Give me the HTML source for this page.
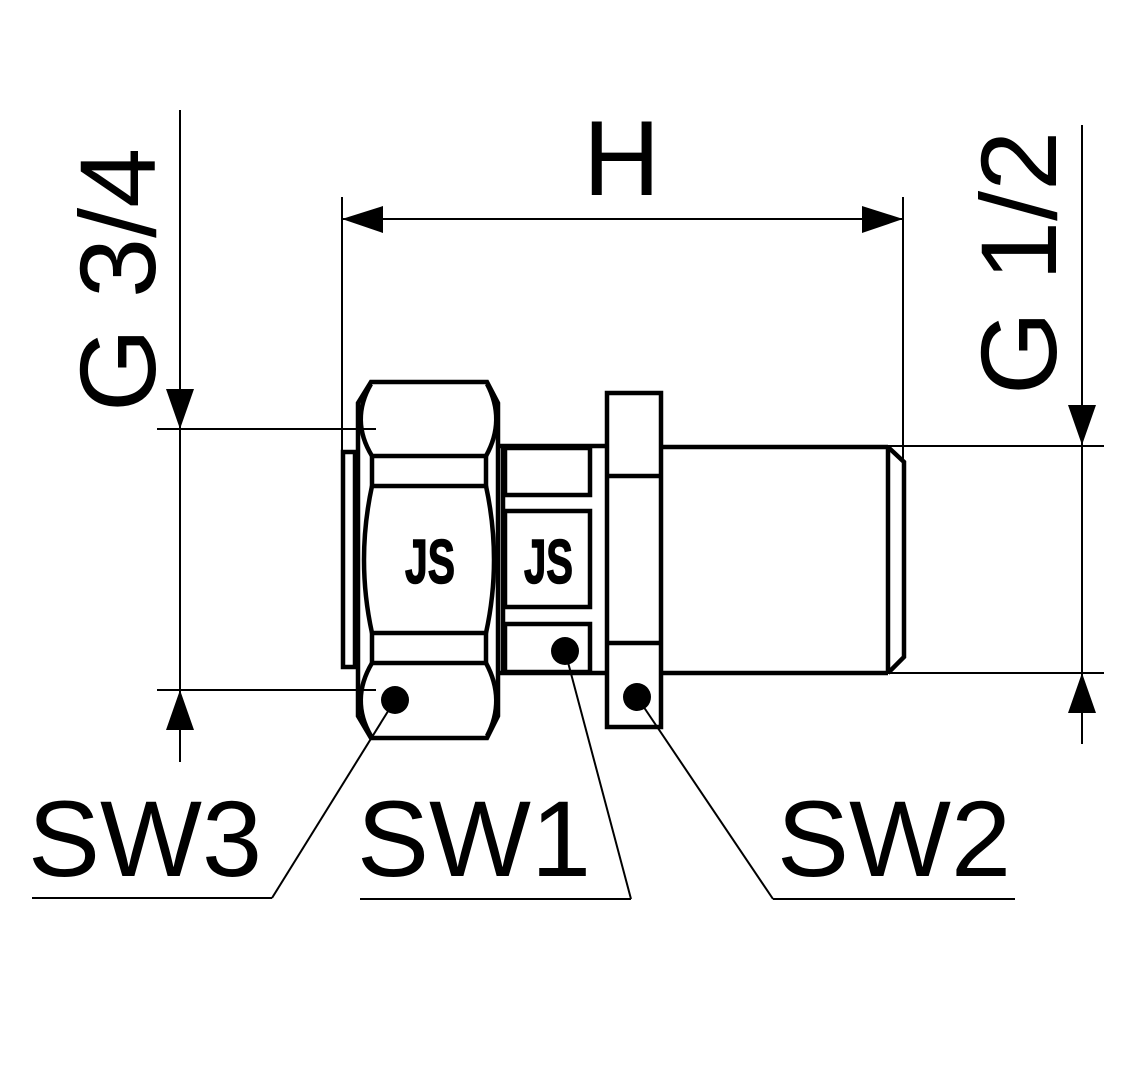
<!DOCTYPE html>
<html>
<head>
<meta charset="utf-8">
<style>
html,body{margin:0;padding:0;background:#fff;}
svg{display:block;}
text{font-family:"Liberation Sans",Arial,sans-serif;fill:#000;}
</style>
</head>
<body>
<svg width="1134" height="1080" viewBox="0 0 1134 1080" xmlns="http://www.w3.org/2000/svg">
<rect x="0" y="0" width="1134" height="1080" fill="#fff"/>

<!-- ===== Dimension lines (thin) ===== -->
<g stroke="#000" stroke-width="2" fill="none">
  <!-- G 3/4 -->
  <line x1="180" y1="110" x2="180" y2="762"/>
  <line x1="157" y1="429" x2="376" y2="429"/>
  <line x1="157" y1="690" x2="376" y2="690"/>
  <!-- H -->
  <line x1="342" y1="197" x2="342" y2="452"/>
  <line x1="903" y1="197" x2="903" y2="462"/>
  <line x1="342" y1="219" x2="903" y2="219"/>
  <!-- G 1/2 -->
  <line x1="1082" y1="125" x2="1082" y2="744"/>
  <line x1="888" y1="446" x2="1104" y2="446"/>
  <line x1="888" y1="673" x2="1104" y2="673"/>
  <!-- leaders -->
  <line x1="395" y1="700" x2="272" y2="898"/>
  <line x1="32" y1="898" x2="272" y2="898"/>
  <line x1="565" y1="651" x2="631" y2="899"/>
  <line x1="360" y1="899" x2="631" y2="899"/>
  <line x1="637" y1="697" x2="773" y2="899"/>
  <line x1="773" y1="899" x2="1015" y2="899"/>
</g>

<!-- arrowheads -->
<g fill="#000" stroke="none">
  <polygon points="180,429 166,389 194,389"/>
  <polygon points="180,690 166,730 194,730"/>
  <polygon points="342,219 383,206 383,233"/>
  <polygon points="903,219 862,206 862,233"/>
  <polygon points="1082,445 1068,405 1096,405"/>
  <polygon points="1082,673 1068,713 1096,713"/>
</g>

<!-- ===== Part outline (thick) ===== -->
<g stroke="#000" stroke-width="4.5" fill="none" stroke-linejoin="miter">
  <!-- seal ring -->
  <rect x="343" y="452" width="12" height="215"/>
  <!-- big nut outer -->
  <polygon points="371,382 487,382 498,403 498,716 487,738 371,738 358,716 358,403"/>
  <!-- nut inner arcs -->
  <path d="M371,384 Q350,420 372,456"/>
  <path d="M487,384 Q506,420 486,456"/>
  <path d="M372,486 Q356,560 372,633"/>
  <path d="M486,486 Q502,560 486,633"/>
  <path d="M372,663 Q350,700 371,736"/>
  <path d="M486,663 Q506,700 487,736"/>
  <!-- bands -->
  <rect x="372" y="456" width="114" height="30"/>
  <rect x="372" y="633" width="114" height="30"/>

  <!-- middle body -->
  <line x1="498" y1="446" x2="607" y2="446"/>
  <line x1="498" y1="673" x2="607" y2="673"/>
  <line x1="503" y1="446" x2="503" y2="673"/>
  <rect x="505" y="448" width="85" height="47"/>
  <rect x="505" y="511" width="85" height="96"/>
  <rect x="505" y="624" width="85" height="48"/>

  <!-- SW2 hex -->
  <rect x="607" y="393" width="54" height="334"/>
  <line x1="607" y1="476" x2="661" y2="476"/>
  <line x1="607" y1="643" x2="661" y2="643"/>

  <!-- right threaded part -->
  <line x1="661" y1="447" x2="888" y2="447"/>
  <line x1="661" y1="673" x2="888" y2="673"/>
  <line x1="888" y1="447" x2="888" y2="673"/>
  <polyline points="888,447 904,462 904,657 888,673"/>
</g>

<!-- dots -->
<g fill="#000">
  <circle cx="395" cy="700" r="14"/>
  <circle cx="565" cy="651" r="14"/>
  <circle cx="637" cy="697" r="14"/>
</g>

<!-- JS logos -->
<text x="405" y="583" font-size="62" font-weight="bold" stroke="#000" stroke-width="1.5" textLength="50" lengthAdjust="spacingAndGlyphs">JS</text>
<text x="524" y="583" font-size="62" font-weight="bold" stroke="#000" stroke-width="1.5" textLength="49" lengthAdjust="spacingAndGlyphs">JS</text>

<!-- labels -->
<text x="583" y="195" font-size="107">H</text>
<text transform="translate(155,412) rotate(-90)" font-size="108">G 3/4</text>
<text transform="translate(1056,395) rotate(-90)" font-size="108">G 1/2</text>
<text x="28" y="876" font-size="108">SW3</text>
<text x="357" y="876" font-size="108">SW1</text>
<text x="777" y="876" font-size="108">SW2</text>
</svg>
</body>
</html>
